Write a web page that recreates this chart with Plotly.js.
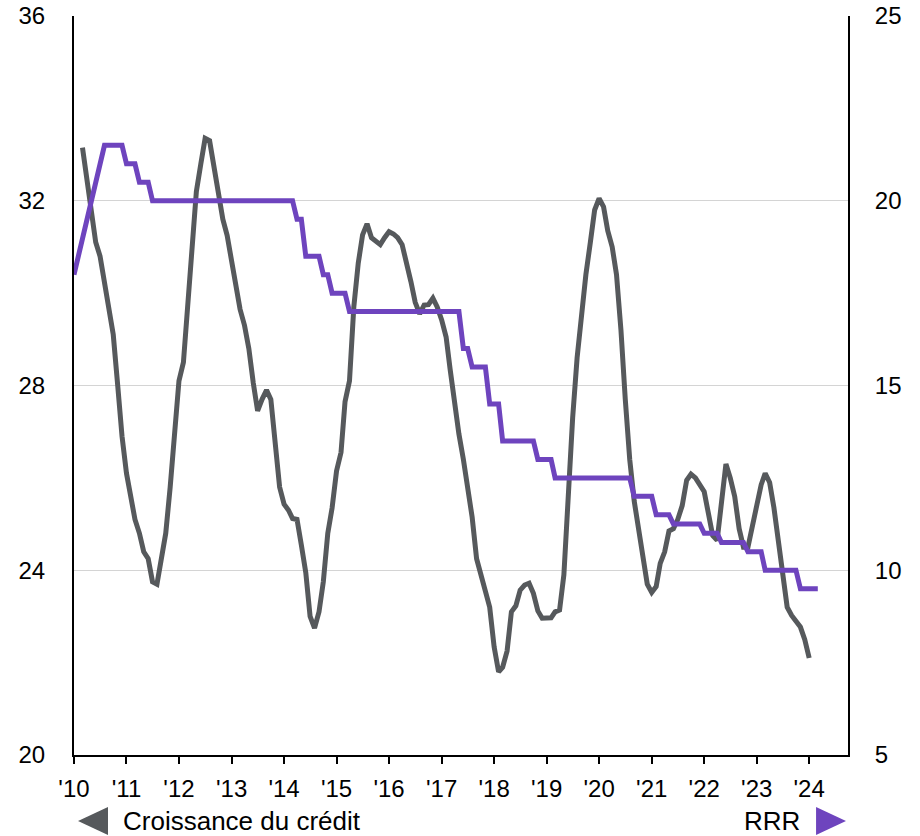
<!DOCTYPE html>
<html>
<head>
<meta charset="utf-8">
<script src="https://cdn.plot.ly/plotly-3.0.1.min.js"></script>
<style>
  html, body { margin: 0; padding: 0; background: #ffffff; }
  #chart { width: 920px; height: 836px; }
</style>
</head>
<body>
<div id="chart"></div>
<script>
// ---- Data ----
// Credit growth (%), monthly, first value = March 2010 (left axis)
const creditStart = [2010, 3];
const creditValues = [
  33.15, 32.5, 31.9, 31.1, 30.8, 30.2, 29.7, 29.1, 28.0, 26.9,
  26.1, 25.6, 25.1, 24.8, 24.4, 24.25, 23.75, 23.7, 24.2, 24.8, 25.8, 26.9,
  28.1, 28.5, 29.7, 31.3, 32.2, 32.8, 33.35, 33.3, 32.7, 32.1, 31.6, 31.25,
  30.7, 30.0, 29.65, 29.3, 28.8, 28.05, 27.45, 27.7, 27.9, 27.7, 26.8, 25.8,
  25.43, 25.3, 25.12, 25.1, 24.55, 23.95, 23.0, 22.75, 23.1, 23.75, 24.8, 25.35,
  26.15, 26.55, 27.65, 28.1, 29.7, 30.65, 31.26, 31.5, 31.2, 31.12, 31.05, 31.2,
  31.33, 31.28, 31.2, 31.05, 30.7, 30.25, 29.8, 29.55, 29.74, 29.75, 29.89, 29.7,
  29.42, 29.05, 28.35, 27.6, 26.95, 26.4, 25.8, 25.15, 24.25, 23.85, 23.55, 23.2,
  22.34, 21.8, 21.9, 22.25, 23.1, 23.23, 23.57, 23.68, 23.72, 23.5, 23.12, 22.96,
  22.96, 22.97, 23.1, 23.14, 23.9, 25.7, 27.3, 28.6, 29.6, 30.4, 31.1, 31.8,
  32.05, 31.87, 31.35, 31.0, 30.4, 29.2, 27.7, 26.4, 25.5, 24.9, 24.3, 23.7,
  23.52, 23.65, 24.15, 24.4, 24.85, 24.9, 25.1, 25.4, 25.95, 26.08, 26.0, 25.85,
  25.7, 25.2, 24.75, 24.65, 25.4, 26.3, 26.0, 25.6, 24.9, 24.5, 24.5, 24.95,
  25.45, 25.85, 26.1, 25.9, 25.35, 24.65, 23.85, 23.2, 23.02, 22.88, 22.77, 22.5,
  22.1
];

// Reserve requirement ratio (%), monthly, first value = January 2010 (right axis)
const rrrStart = [2010, 1];
const rrrValues = [
  18, 18.5, 19, 19.5, 20, 20.5, 21, 21.5, 21.5, 21.5, 21.5, 21.5,
  21, 21, 21, 20.5, 20.5, 20.5, 20, 20, 20, 20, 20, 20,
  20, 20, 20, 20, 20, 20, 20, 20, 20, 20, 20, 20,
  20, 20, 20, 20, 20, 20, 20, 20, 20, 20, 20, 20,
  20, 20, 20, 19.5, 19.5, 18.5, 18.5, 18.5, 18.5, 18, 18, 17.5,
  17.5, 17.5, 17.5, 17, 17, 17, 17, 17, 17, 17, 17, 17,
  17, 17, 17, 17, 17, 17, 17, 17, 17, 17, 17, 17,
  17, 17, 17, 17, 17, 16, 16, 15.5, 15.5, 15.5, 15.5, 14.5,
  14.5, 14.5, 13.5, 13.5, 13.5, 13.5, 13.5, 13.5, 13.5, 13.5, 13, 13,
  13, 13, 12.5, 12.5, 12.5, 12.5, 12.5, 12.5, 12.5, 12.5, 12.5, 12.5,
  12.5, 12.5, 12.5, 12.5, 12.5, 12.5, 12.5, 12.5, 12, 12, 12, 12,
  12, 11.5, 11.5, 11.5, 11.5, 11.25, 11.25, 11.25, 11.25, 11.25, 11.25, 11.25,
  11, 11, 11, 11, 10.75, 10.75, 10.75, 10.75, 10.75, 10.75, 10.5, 10.5,
  10.5, 10.5, 10, 10, 10, 10, 10, 10, 10, 10, 9.5, 9.5,
  9.5, 9.5, 9.5
];

const yearTicks = ['2010','2011','2012','2013','2014','2015','2016','2017','2018','2019','2020','2021','2022','2023','2024'];
const yearLabels = ["'10","'11","'12","'13","'14","'15","'16","'17","'18","'19","'20","'21","'22","'23","'24"];
const leftTicks = [20, 24, 28, 32, 36];
const rightTicks = [5, 10, 15, 20, 25];
const seriesNames = ['Croissance du crédit', 'RRR'];

// ---- helpers ----
function monthDates(start, n) {
  const out = [];
  let y = start[0], m = start[1];
  for (let i = 0; i < n; i++) {
    out.push(y + '-' + String(m).padStart(2, '0') + '-01');
    m++; if (m > 12) { m = 1; y++; }
  }
  return out;
}

const GRAY = '#56595c';
const PURPLE = '#6e44be';
const FONT = 'Liberation Sans, Arial, sans-serif';

const traces = [
  {
    x: monthDates(creditStart, creditValues.length),
    y: creditValues,
    name: seriesNames[0],
    type: 'scatter', mode: 'lines',
    line: { color: GRAY, width: 5 },
    yaxis: 'y'
  },
  {
    x: monthDates(rrrStart, rrrValues.length),
    y: rrrValues,
    name: seriesNames[1],
    type: 'scatter', mode: 'lines',
    line: { color: PURPLE, width: 5 },
    yaxis: 'y2'
  }
];

const layout = {
  width: 920, height: 836,
  margin: { l: 74, r: 72, t: 16, b: 81, pad: 0 },
  paper_bgcolor: '#ffffff', plot_bgcolor: '#ffffff',
  showlegend: false,
  font: { family: FONT, size: 24, color: '#000000' },
  xaxis: {
    type: 'date',
    range: ['2010-01-01', '2024-09-27'],
    tickvals: yearTicks.map(y => y + '-01-01'),
    ticktext: yearLabels,
    showline: true, linecolor: '#000000', linewidth: 2,
    ticks: 'outside', ticklen: 7, tickwidth: 2, tickcolor: '#000000',
    showgrid: false, zeroline: false,
    tickfont: { family: FONT, size: 24, color: '#000000' },
    ticklabelstandoff: 4
  },
  yaxis: {
    range: [20, 36],
    tickvals: leftTicks,
    showline: true, linecolor: '#000000', linewidth: 2,
    ticks: '', showgrid: true, gridcolor: '#d4d4d4', gridwidth: 1,
    zeroline: false,
    tickfont: { family: FONT, size: 24, color: '#000000' },
    ticklabelstandoff: 22
  },
  yaxis2: {
    range: [5, 25],
    tickvals: rightTicks,
    overlaying: 'y', side: 'right',
    showline: true, linecolor: '#000000', linewidth: 2,
    ticks: '', showgrid: false, zeroline: false,
    tickfont: { family: FONT, size: 24, color: '#000000' },
    ticklabelstandoff: 20
  },
  shapes: [
    { type: 'path', xref: 'paper', yref: 'paper',
      path: 'M 0.0052 -0.0893 L 0.0439 -0.0704 L 0.0439 -0.1083 Z',
      fillcolor: GRAY, line: { width: 0 } },
    { type: 'path', xref: 'paper', yref: 'paper',
      path: 'M 0.9587 -0.0704 L 0.9587 -0.1083 L 0.9974 -0.0893 Z',
      fillcolor: PURPLE, line: { width: 0 } }
  ],
  annotations: [
    { text: seriesNames[0], xref: 'paper', yref: 'paper', x: 0.061, y: -0.0893,
      xanchor: 'left', yanchor: 'middle', showarrow: false,
      font: { family: FONT, size: 26, color: '#000000' } },
    { text: seriesNames[1], xref: 'paper', yref: 'paper', x: 0.940, y: -0.0893,
      xanchor: 'right', yanchor: 'middle', showarrow: false,
      font: { family: FONT, size: 26, color: '#000000' } }
  ]
};

Plotly.newPlot('chart', traces, layout, { displayModeBar: false, staticPlot: true });
</script>
</body>
</html>
